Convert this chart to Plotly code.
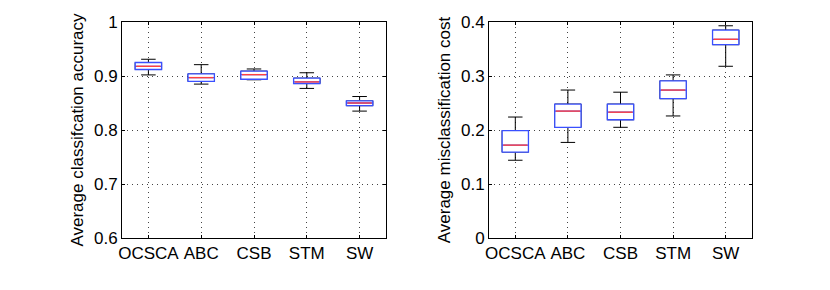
import plotly.graph_objects as go

methods = ["OCSCA", "ABC", "CSB", "STM", "SW"]

# Accuracy (left panel)
acc_low = [0.902, 0.885, 0.893, 0.877, 0.835]
acc_q1 = [0.912, 0.890, 0.894, 0.886, 0.845]
acc_med = [0.918, 0.897, 0.9025, 0.889, 0.850]
acc_q3 = [0.925, 0.904, 0.909, 0.896, 0.854]
acc_high = [0.931, 0.921, 0.913, 0.906, 0.862]

# Misclassification cost (right panel)
cost_low = [0.144, 0.177, 0.205, 0.226, 0.318]
cost_q1 = [0.159, 0.205, 0.219, 0.258, 0.358]
cost_med = [0.172, 0.235, 0.233, 0.274, 0.368]
cost_q3 = [0.199, 0.248, 0.248, 0.291, 0.385]
cost_high = [0.224, 0.274, 0.270, 0.302, 0.393]

xpos = [1, 2, 3, 4, 5]
BOXW = 0.5

fig = go.Figure()

def add_panel(low, q1, med, q3, high, xa, ya):
    # whiskers (black)
    fig.add_trace(go.Box(
        x=xpos, q1=q1, median=med, q3=q3, lowerfence=low, upperfence=high,
        width=BOXW, whiskerwidth=0.55, line=dict(color="black", width=1),
        fillcolor="rgba(255,255,255,1)", boxpoints=False, hoverinfo="skip",
        showlegend=False, xaxis=xa, yaxis=ya))
    # box (blue)
    fig.add_trace(go.Box(
        x=xpos, q1=q1, median=med, q3=q3, lowerfence=q1, upperfence=q3,
        width=BOXW, whiskerwidth=0, line=dict(color="#3a50ff", width=1.3),
        fillcolor="rgba(255,255,255,1)", boxpoints=False, hoverinfo="skip",
        showlegend=False, xaxis=xa, yaxis=ya))
    # medians (red)
    mx, my = [], []
    for x, m in zip(xpos, med):
        mx += [x - BOXW / 2 + 0.02, x + BOXW / 2 - 0.02, None]
        my += [m, m, None]
    fig.add_trace(go.Scatter(x=mx, y=my, mode="lines",
                             line=dict(color="#ff4040", width=1.4),
                             hoverinfo="skip", showlegend=False,
                             xaxis=xa, yaxis=ya))

add_panel(acc_low, acc_q1, acc_med, acc_q3, acc_high, "x", "y")
add_panel(cost_low, cost_q1, cost_med, cost_q3, cost_high, "x2", "y2")

FONT = dict(family="Liberation Sans, Arial, sans-serif", size=17, color="black")

xcommon = dict(range=[0.5, 5.5], tickmode="array", tickvals=xpos, ticktext=methods,
               showline=True, linecolor="black", linewidth=1, mirror="ticks",
               ticks="inside", ticklen=3, tickcolor="black",
               showgrid=True, gridcolor="#444", griddash="1px,4px", gridwidth=1,
               zeroline=False, tickfont=FONT, automargin=False)
ycommon = dict(showline=True, linecolor="black", linewidth=1, mirror="ticks",
               ticks="inside", ticklen=3, tickcolor="black",
               showgrid=True, gridcolor="#444", griddash="1px,4px", gridwidth=1,
               zeroline=False, tickfont=FONT, automargin=False)

# page body has an 8px margin, so positions are offset by 8px
OFF = 8
y0, y1 = (290 - (238 - OFF)) / 290, (290 - (22 - OFF)) / 290
fig.update_layout(
    width=830, height=290,
    margin=dict(l=0, r=0, t=0, b=0),
    paper_bgcolor="white", plot_bgcolor="white",
    boxmode="overlay",
    font=FONT,
    xaxis=dict(domain=[(122 - OFF) / 830, (386 - OFF) / 830], anchor="y", **xcommon),
    yaxis=dict(domain=[y0, y1], anchor="x", range=[0.6, 1.0],
               tickvals=[0.6, 0.7, 0.8, 0.9, 1.0], ticktext=["0.6", "0.7", "0.8", "0.9", "1"],
               title=dict(text="Average classifcation accuracy", font=FONT, standoff=6),
               **ycommon),
    xaxis2=dict(domain=[(489 - OFF) / 830, (752 - OFF) / 830], anchor="y2", **xcommon),
    yaxis2=dict(domain=[y0, y1], anchor="x2", range=[0, 0.4],
                tickvals=[0, 0.1, 0.2, 0.3, 0.4], ticktext=["0", "0.1", "0.2", "0.3", "0.4"],
                title=dict(text="Average misclassification cost", font=FONT, standoff=6),
                **ycommon),
)

fig.write_html("out.html")
